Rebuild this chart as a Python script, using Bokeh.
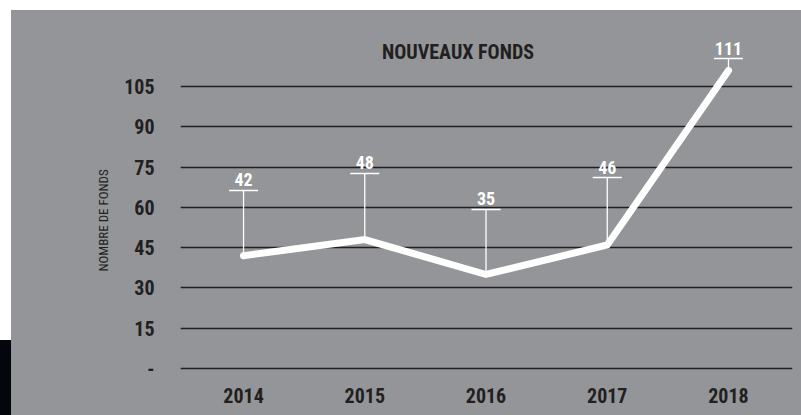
from bokeh.plotting import figure
from bokeh.models import Range1d, FixedTicker, ColumnDataSource, Spacer, Title
from bokeh.layouts import column, row
from bokeh.core.properties import value
from bokeh.embed import file_html
from bokeh.resources import INLINE

# ---- data ----
years = [2014, 2015, 2016, 2017, 2018]
funds = [42, 48, 35, 46, 111]
label_offsets = [24.3, 24.6, 24.2, 25.1, 4.4]   # height of the label stems above each point
y_ticks = [0, 15, 30, 45, 60, 75, 90, 105]
y_tick_labels = ["-", "15", "30", "45", "60", "75", "90", "105"]
x_tick_labels = ["2014", "2015", "2016", "2017", "2018"]
title_text = "NOUVEAUX FONDS"
y_title = "NOMBRE DE FONDS"

GRAY = "#939598"
DARK = "#231f20"
NARROW = "'Liberation Sans Narrow', 'Arial Narrow', 'Roboto Condensed', Roboto, sans-serif"

p = figure(width=790, height=405, output_backend="svg", toolbar_location=None,
           x_range=Range1d(2013.48, 2018.528), y_range=Range1d(-1.49, 125.85),
           min_border=0, min_border_left=169, min_border_right=9,
           min_border_top=20, min_border_bottom=43,
           styles={"background-color": GRAY})
p.background_fill_color = GRAY
p.border_fill_color = GRAY
p.outline_line_color = None

# axes
p.xaxis.ticker = FixedTicker(ticks=years)
p.xaxis.major_label_overrides = {y: l for y, l in zip(years, x_tick_labels)}
p.yaxis.ticker = FixedTicker(ticks=y_ticks)
p.yaxis.major_label_overrides = {t: l for t, l in zip(y_ticks, y_tick_labels)}
for ax in (p.xaxis, p.yaxis):
    ax.axis_line_color = None
    ax.major_tick_line_color = None
    ax.minor_tick_line_color = None
    ax.major_label_text_font = NARROW
    ax.major_label_text_font_style = "bold"
    ax.major_label_text_font_size = "20px"
    ax.major_label_text_color = DARK
p.xaxis.major_label_standoff = 9
p.yaxis.major_label_standoff = 20

# y axis title, placed a little below the frame centre as in the original
ytitle = Title(text=y_title, align="left", offset=101, standoff=21,
               text_font=NARROW, text_font_style="normal",
               text_font_size="13px", text_color=DARK)
p.add_layout(ytitle, "left")

p.xgrid.grid_line_color = None
p.ygrid.grid_line_color = DARK
p.ygrid.grid_line_width = 1.3

# title inside plot area
p.text(x=[2015.769], y=[113.5], text=[title_text], text_font=value(NARROW),
       text_font_style="bold", text_font_size="20px", text_color=DARK,
       text_align="center", text_baseline="bottom")

src = ColumnDataSource(dict(
    x=years, y=funds,
    top=[v + o for v, o in zip(funds, label_offsets)],
    ty=[v + o + 1.5 for v, o in zip(funds, label_offsets)],
    xl=[x - 0.12 for x in years], xr=[x + 0.12 for x in years],
    lab=[str(v) for v in funds]))

# stems + bars
p.segment(x0="x", y0="y", x1="x", y1="top", source=src, line_color="white", line_width=1.3)
p.segment(x0="xl", y0="top", x1="xr", y1="top", source=src, line_color="white", line_width=1.5)

# main line
p.line(x="x", y="y", source=src, line_color="white", line_width=7,
       line_cap="round", line_join="miter")

# value labels
p.text(x="x", y="ty", text="lab", source=src, text_font=value(NARROW),
       text_font_style="bold", text_font_size="18px", text_color="white",
       text_align="center", text_baseline="bottom")

black_strip = Spacer(width=11, height=75, styles={"background-color": "#03060d"})
left_col = column(Spacer(width=11, height=330), black_strip)
layout = column(Spacer(width=801, height=10), row(left_col, p))

open("out.html", "w").write(file_html(layout, INLINE))
